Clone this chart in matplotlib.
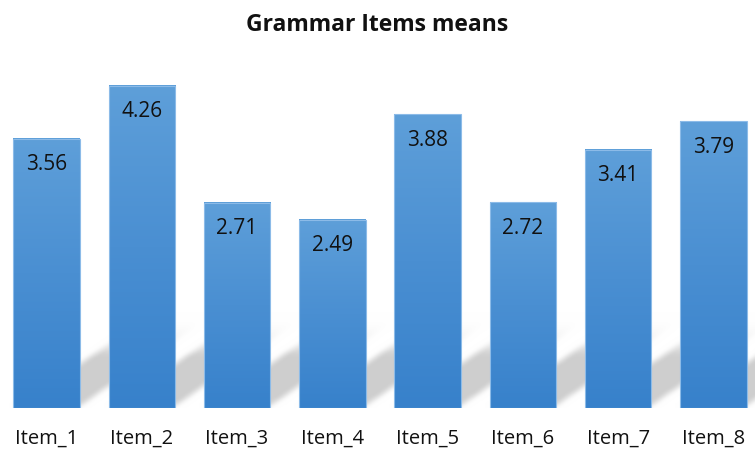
import numpy as np
import matplotlib
matplotlib.use("Agg")
import matplotlib.pyplot as plt
from matplotlib.patches import Rectangle
from matplotlib.colors import LinearSegmentedColormap

# data
items = ['Item_1', 'Item_2', 'Item_3', 'Item_4', 'Item_5', 'Item_6', 'Item_7', 'Item_8']
means = [3.56, 4.26, 2.71, 2.49, 3.88, 2.72, 3.41, 3.79]
title = 'Grammar Items means'

plt.rcParams['font.family'] = ['Open Sans', 'DejaVu Sans']

W, H = 755, 456
fig = plt.figure(figsize=(W / 100, H / 100), dpi=100)
ax = fig.add_axes([-1 / W, 47 / H, 762 / W, 340.6 / H])

n = len(items)
bw = 0.70
ax.set_xlim(-0.5, n - 0.5)
ax.set_ylim(0, 4.5)

# soft shadow cast up-right behind the bars
xs = np.linspace(-0.5, n - 0.5, 800)
ys = np.linspace(0, 1.8, 200)
X, Y = np.meshgrid(xs, ys)
slope = 0.87
sh = np.zeros_like(X)
for i in range(n):
    xl, xr = i - bw / 2, i + bw / 2
    u = X - Y / slope
    inside = (u >= xl) & (u <= xr)
    sh = np.maximum(sh, inside * 1.0)
# fade out towards the far end
sh = sh * np.clip((1.25 - Y) / 0.55, 0, 1) ** 1.3


def blur(a, k, axis):
    ker = np.ones(k) / k
    return np.apply_along_axis(lambda v: np.convolve(v, ker, mode='same'), axis, a)


sh = blur(sh, 13, 1)
sh = blur(sh, 13, 0)
shadow_cmap = LinearSegmentedColormap.from_list('sh', [(1, 1, 1, 0), (0.62, 0.62, 0.62, 0.5)])
ax.imshow(sh, extent=(-0.5, n - 0.5, 0, 1.8), origin='lower', cmap=shadow_cmap,
          vmin=0, vmax=1, aspect='auto', zorder=1, interpolation='bilinear')

# gradient bars
bar_cmap = LinearSegmentedColormap.from_list('bar', ['#3781cb', '#4a8fd2', '#5e9fd9'])
grad = np.linspace(0, 1, 256).reshape(-1, 1)
for i, v in enumerate(means):
    xl = i - bw / 2
    ax.imshow(grad, extent=(xl, xl + bw, 0, v), origin='lower', cmap=bar_cmap,
              aspect='auto', zorder=2)
    ax.add_patch(Rectangle((xl, 0), bw, v, facecolor='none', edgecolor='#8cbbe8',
                           lw=0.8, zorder=3))
    ax.annotate(f'{v:.2f}', (i, v), xytext=(0, -18), textcoords='offset points',
                ha='center', va='center', fontsize=15, color='#111111', zorder=4)

ax.set_xticks(range(n))
ax.set_xticklabels(items, fontsize=14.5, color='#111111')
ax.tick_params(axis='x', length=0, pad=14)
ax.set_yticks([])
for s in ax.spines.values():
    s.set_visible(False)
ax.set_xlim(-0.5, n - 0.5)
ax.set_ylim(0, 4.5)

fig.text(0.5, 1 - 25 / H, title, ha='center', va='center', fontsize=16.5,
         fontweight='bold', color='#111111')

fig.savefig('out.png', dpi=100)
